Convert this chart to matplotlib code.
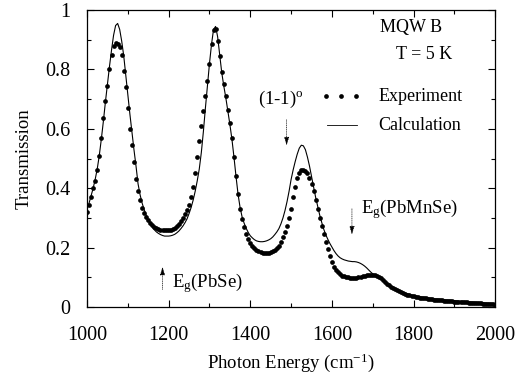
import numpy as np
import matplotlib
matplotlib.use('Agg')
import matplotlib.pyplot as plt

plt.rcParams['font.family'] = 'Liberation Serif'
plt.rcParams['mathtext.fontset'] = 'custom'
plt.rcParams['mathtext.rm'] = 'Liberation Serif'
plt.rcParams['mathtext.it'] = 'Liberation Serif:italic'

# photon energy grid (cm-1), 5 cm-1 steps
energy = np.arange(1000, 2005, 5)

# measured transmission
exp_t = [
    0.320, 0.345, 0.370, 0.400, 0.425, 0.460, 0.510, 0.570, 0.635, 0.695,   # 1000-1045
    0.745, 0.800, 0.850, 0.880, 0.890, 0.885, 0.875, 0.850, 0.795, 0.740,   # 1050-1095
    0.670, 0.600, 0.545, 0.490, 0.430, 0.390, 0.360, 0.335, 0.318, 0.303,   # 1100-1145
    0.292, 0.283, 0.276, 0.270, 0.266, 0.263, 0.261, 0.260, 0.259, 0.259,   # 1150-1195
    0.260, 0.261, 0.263, 0.267, 0.273, 0.281, 0.290, 0.300, 0.312, 0.327,   # 1200-1245
    0.345, 0.370, 0.405, 0.450, 0.505, 0.560, 0.610, 0.660, 0.710, 0.760,   # 1250-1295
    0.820, 0.885, 0.932, 0.935, 0.895, 0.845, 0.790, 0.750, 0.710, 0.665,   # 1300-1345
    0.620, 0.570, 0.505, 0.440, 0.380, 0.330, 0.295, 0.268, 0.246, 0.230,   # 1350-1395
    0.217, 0.207, 0.199, 0.193, 0.188, 0.184, 0.182, 0.181, 0.181, 0.182,   # 1400-1445
    0.185, 0.188, 0.192, 0.198, 0.207, 0.220, 0.235, 0.252, 0.272, 0.300,   # 1450-1495
    0.330, 0.370, 0.405, 0.435, 0.450, 0.460, 0.460, 0.457, 0.450, 0.435,   # 1500-1545
    0.415, 0.390, 0.360, 0.330, 0.300, 0.272, 0.245, 0.220, 0.195, 0.172,   # 1550-1595
    0.152, 0.136, 0.125, 0.117, 0.111, 0.106, 0.103, 0.101, 0.100, 0.099,   # 1600-1645
    0.098, 0.098, 0.099, 0.100, 0.101, 0.103, 0.105, 0.107, 0.108, 0.109,   # 1650-1695
    0.109, 0.108, 0.106, 0.102, 0.097, 0.091, 0.085, 0.079, 0.073, 0.068,   # 1700-1745
    0.064, 0.060, 0.056, 0.053, 0.050, 0.047, 0.044, 0.042, 0.040, 0.038,   # 1750-1795
    0.036, 0.035, 0.033, 0.032, 0.031, 0.030, 0.029, 0.028, 0.027, 0.026,   # 1800-1845
    0.025, 0.0245, 0.024, 0.023, 0.0225, 0.022, 0.021, 0.0205, 0.020, 0.019,  # 1850-1895
    0.0185, 0.018, 0.0175, 0.017, 0.0165, 0.016, 0.0155, 0.015, 0.0145, 0.014,  # 1900-1945
    0.0135, 0.013, 0.0125, 0.012, 0.0115, 0.011, 0.0105, 0.010, 0.0095, 0.009,  # 1950-1995
    0.0085,                                                                  # 2000
]

# calculated transmission
calc_t = [
    0.330, 0.350, 0.375, 0.400, 0.430, 0.465, 0.510, 0.565, 0.625, 0.690,   # 1000-1045
    0.750, 0.810, 0.865, 0.915, 0.948, 0.955, 0.935, 0.895, 0.845, 0.780,   # 1050-1095
    0.715, 0.650, 0.590, 0.530, 0.475, 0.415, 0.378, 0.350, 0.328, 0.309,   # 1100-1145
    0.293, 0.280, 0.269, 0.260, 0.253, 0.248, 0.244, 0.241, 0.239, 0.239,   # 1150-1195
    0.239, 0.240, 0.242, 0.245, 0.250, 0.256, 0.264, 0.273, 0.284, 0.297,   # 1200-1245
    0.315, 0.335, 0.360, 0.390, 0.425, 0.465, 0.520, 0.590, 0.670, 0.745,   # 1250-1295
    0.820, 0.885, 0.935, 0.945, 0.910, 0.850, 0.790, 0.745, 0.705, 0.660,   # 1300-1345
    0.615, 0.565, 0.505, 0.440, 0.380, 0.335, 0.303, 0.282, 0.265, 0.251,   # 1350-1395
    0.240, 0.233, 0.227, 0.223, 0.221, 0.220, 0.220, 0.221, 0.223, 0.226,   # 1400-1445
    0.230, 0.236, 0.244, 0.253, 0.264, 0.280, 0.300, 0.325, 0.355, 0.390,   # 1450-1495
    0.430, 0.462, 0.490, 0.515, 0.535, 0.545, 0.543, 0.530, 0.505, 0.475,   # 1500-1545
    0.440, 0.405, 0.370, 0.340, 0.310, 0.285, 0.262, 0.243, 0.228, 0.214,   # 1550-1595
    0.202, 0.190, 0.180, 0.172, 0.166, 0.162, 0.159, 0.157, 0.155, 0.154,   # 1600-1645
    0.153, 0.153, 0.152, 0.150, 0.147, 0.143, 0.138, 0.132, 0.125, 0.118,   # 1650-1695
    0.112, 0.107, 0.103, 0.099, 0.095, 0.090, 0.086, 0.081, 0.076, 0.071,   # 1700-1745
    0.067, 0.063, 0.059, 0.056, 0.053, 0.050, 0.047, 0.045, 0.043, 0.041,   # 1750-1795
    0.039, 0.038, 0.036, 0.035, 0.034, 0.033, 0.032, 0.031, 0.030, 0.029,   # 1800-1845
    0.028, 0.0275, 0.027, 0.026, 0.0255, 0.025, 0.024, 0.0235, 0.023, 0.022,  # 1850-1895
    0.0215, 0.021, 0.0205, 0.020, 0.0195, 0.019, 0.0185, 0.018, 0.0175, 0.017,  # 1900-1945
    0.0165, 0.016, 0.0155, 0.015, 0.0145, 0.014, 0.0135, 0.013, 0.0125, 0.012,  # 1950-1995
    0.0115,                                                                  # 2000
]

fig = plt.figure(figsize=(5.18, 3.74), dpi=100)
ax = fig.add_axes([0.168, 0.179, 0.788, 0.794])

ax.plot(energy, calc_t, 'k-', lw=0.8)
ax.plot(energy, exp_t, 'ko', ms=3.4, mew=0)

ax.set_xlim(1000, 2000)
ax.set_ylim(0, 1)
ax.set_xticks([1000, 1200, 1400, 1600, 1800, 2000])
ax.set_xticks(np.arange(1100, 2000, 200), minor=True)
ax.set_yticks([0, 0.2, 0.4, 0.6, 0.8, 1])
ax.set_yticklabels(['0', '0.2', '0.4', '0.6', '0.8', '1'])
ax.set_yticks([0.1, 0.3, 0.5, 0.7, 0.9], minor=True)
ax.tick_params(which='both', direction='in', top=True, right=True, labelsize=14.5)
ax.tick_params(which='major', length=5, width=0.8)
ax.tick_params(which='minor', length=3, width=0.8)
ax.tick_params(axis='x', which='major', pad=14)
ax.tick_params(axis='y', which='major', pad=12)
for s in ax.spines.values():
    s.set_linewidth(0.9)

ax.set_xlabel('Photon Energy (cm$^{-1}$)', fontsize=13.5, labelpad=4)
ax.set_ylabel('Transmission', fontsize=13.5, labelpad=9)

# header text
ax.text(1795, 0.94, 'MQW B', fontsize=13, ha='center', va='center')
ax.text(1825, 0.85, 'T = 5 K', fontsize=13, ha='center', va='center')

# legend by hand
ax.plot([1585, 1623, 1660], [0.71, 0.71, 0.71], 'ko', ms=3.4, mew=0)
ax.text(1713, 0.71, 'Experiment', fontsize=13, va='center')
ax.plot([1588, 1662], [0.613, 0.613], 'k-', lw=0.6)
ax.text(1713, 0.613, 'Calculation', fontsize=13, va='center')

# annotations with arrows
ax.text(1476, 0.70, '(1-1)$^{\\rm o}$', fontsize=13.5, ha='center', va='center')
ax.annotate('', xy=(1489, 0.535), xytext=(1489, 0.64),
            arrowprops=dict(arrowstyle='-|>,head_width=0.15,head_length=0.5',
                            color='k', lw=0.5, ls=':'))

ax.text(1208, 0.08, 'E$_{\\rm g}$(PbSe)', fontsize=13.5, ha='left', va='center')
ax.annotate('', xy=(1185, 0.145), xytext=(1185, 0.05),
            arrowprops=dict(arrowstyle='-|>,head_width=0.15,head_length=0.5',
                            color='k', lw=0.5, ls=':'))

ax.text(1672, 0.33, 'E$_{\\rm g}$(PbMnSe)', fontsize=13.5, ha='left', va='center')
ax.annotate('', xy=(1649, 0.235), xytext=(1649, 0.34),
            arrowprops=dict(arrowstyle='-|>,head_width=0.15,head_length=0.5',
                            color='k', lw=0.5, ls=':'))

plt.savefig('out.png', dpi=100)
